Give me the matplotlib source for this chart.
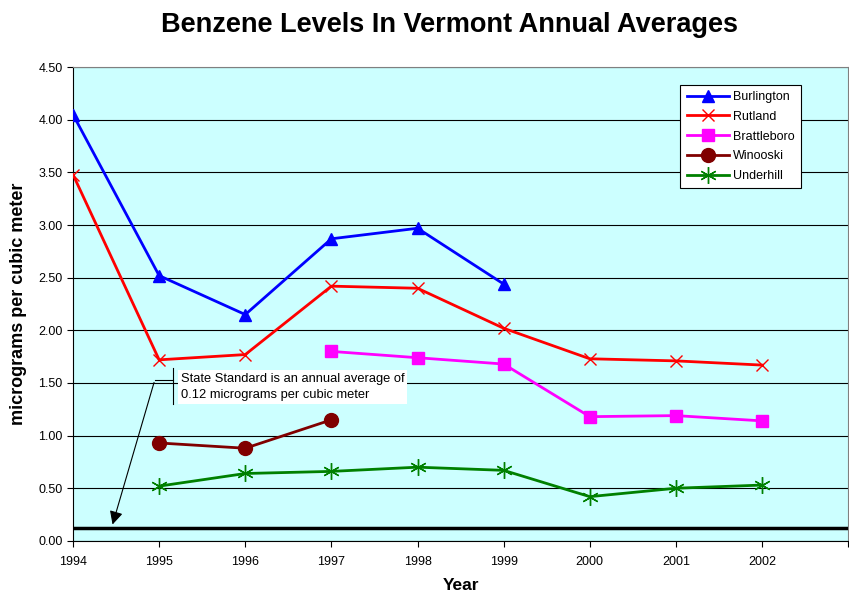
import numpy as np
import matplotlib
matplotlib.use('Agg')
import matplotlib.pyplot as plt

plt.rcParams['font.family'] = ['Liberation Sans', 'DejaVu Sans']

years = list(range(1994, 2003))
burlington = [4.05, 2.52, 2.15, 2.87, 2.97, 2.44, None, None, None]
rutland = [3.48, 1.72, 1.77, 2.42, 2.40, 2.02, 1.73, 1.71, 1.67]
brattleboro = [None, None, None, 1.80, 1.74, 1.68, 1.18, 1.19, 1.14]
winooski = [None, 0.93, 0.88, 1.15, None, None, None, None, None]
underhill = [None, 0.52, 0.64, 0.66, 0.70, 0.67, 0.42, 0.50, 0.53]
standard = 0.12

def arr(v):
    return np.array([np.nan if x is None else x for x in v], dtype=float)

fig = plt.figure(figsize=(8.49, 5.95), dpi=100)
ax = fig.add_axes([0.086, 0.091, 0.913, 0.796])
ax.set_facecolor('#CCFFFF')

ax.set_xlim(1994, 2003)
ax.set_ylim(0, 4.5)
ax.set_yticks(np.arange(0, 4.51, 0.5))
ax.set_yticklabels(['%.2f' % v for v in np.arange(0, 4.51, 0.5)], fontsize=9)
ax.set_xticks(years + [2003])
ax.set_xticklabels([str(y) for y in years] + [''], fontsize=9)
ax.grid(axis='y', color='black', linewidth=0.8)
ax.set_axisbelow(True)
ax.tick_params(direction='out', length=4, width=0.8)
ax.tick_params(axis='x', pad=7)
for s in ['top', 'right']:
    ax.spines[s].set_color('#808080')
    ax.spines[s].set_linewidth(0.8)

ax.axhline(standard, color='black', linewidth=2.5, zorder=3)

ax.plot(years, arr(burlington), color='blue', linewidth=2, marker='^', markersize=9, label='Burlington', zorder=4)
ax.plot(years, arr(rutland), color='red', linewidth=2, marker='x', markersize=9, markeredgewidth=1, label='Rutland', zorder=4)
ax.plot(years, arr(brattleboro), color='magenta', linewidth=2, marker='s', markersize=9, label='Brattleboro', zorder=4)
ax.plot(years, arr(winooski), color='#800000', linewidth=2, marker='o', markersize=10, label='Winooski', zorder=4)
ax.plot(years, arr(underhill), color='green', linewidth=2, marker=(6, 2, 0), markersize=12, markeredgewidth=1, label='Underhill', zorder=4)

ax.annotate('', xy=(1994.45, 0.13), xytext=(1994.95, 1.53),
            arrowprops=dict(arrowstyle='-|>', color='black', lw=0.8, mutation_scale=20), zorder=5)
ax.plot([1994.95, 1995.16], [1.53, 1.53], color='black', linewidth=0.8, zorder=5)
ax.plot([1995.16, 1995.16], [1.30, 1.64], color='black', linewidth=0.8, zorder=5)
ax.text(1995.25, 1.46, 'State Standard is an annual average of\n0.12 micrograms per cubic meter',
        fontsize=9.3, va='center', ha='left', linespacing=1.5,
        bbox=dict(facecolor='white', edgecolor='none', pad=2), zorder=5)

leg = ax.legend(loc='upper right', bbox_to_anchor=(0.947, 0.976), fontsize=9, frameon=True,
                fancybox=False, edgecolor='black', framealpha=1, handlelength=3.4,
                labelspacing=0.62, borderpad=0.5, handletextpad=0.3)
leg.get_frame().set_linewidth(0.8)

ax.set_xlabel('Year', fontsize=12.5, fontweight='bold', labelpad=7)
ax.set_ylabel('micrograms per cubic meter', fontsize=13, fontweight='bold', labelpad=8)
fig.text(0.53, 0.958, 'Benzene Levels In Vermont Annual Averages', fontsize=19.5,
         fontweight='bold', ha='center', va='center')

fig.savefig('out.png', dpi=100)
